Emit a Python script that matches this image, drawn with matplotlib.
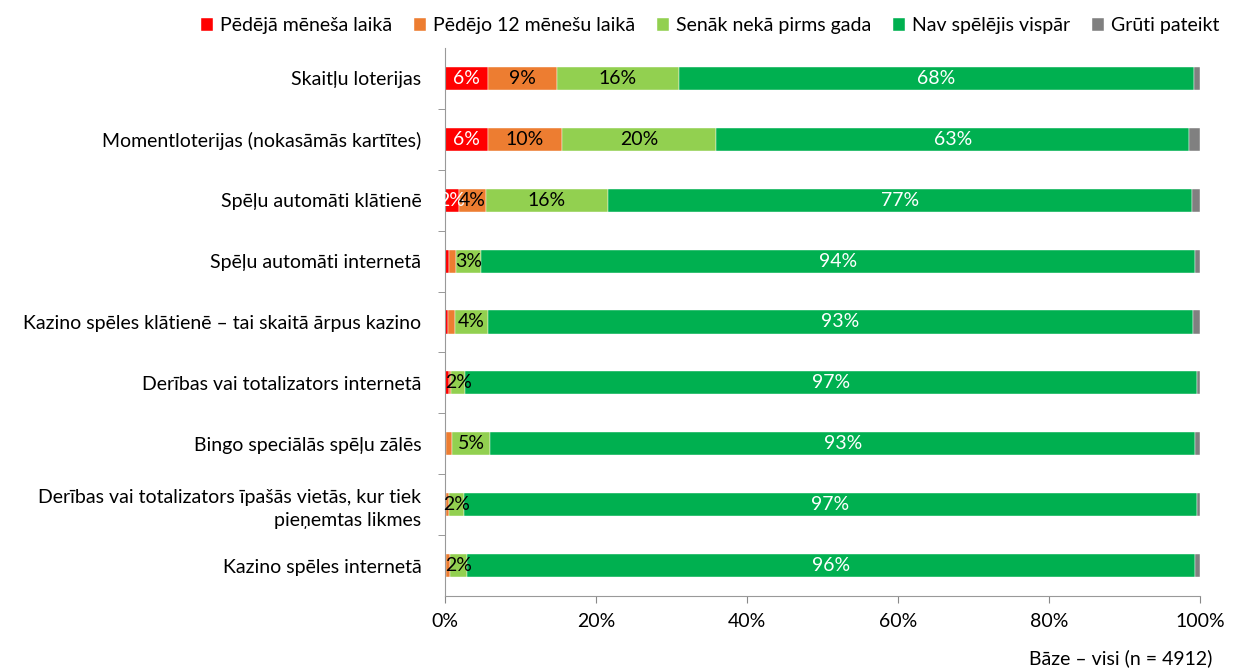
import matplotlib
matplotlib.use('Agg')
import matplotlib.pyplot as plt
from matplotlib.ticker import FixedLocator
import numpy as np

plt.rcParams['font.family'] = ['Lato', 'DejaVu Sans']

categories = [
    'Skaitļu loterijas',
    'Momentloterijas (nokasāmās kartītes)',
    'Spēļu automāti klātienē',
    'Spēļu automāti internetā',
    'Kazino spēles klātienē – tai skaitā ārpus kazino',
    'Derības vai totalizators internetā',
    'Bingo speciālās spēļu zālēs',
    'Derības vai totalizators īpašās vietās, kur tiek\npieņemtas likmes',
    'Kazino spēles internetā',
]
series_names = ['Pēdējā mēneša laikā', 'Pēdējo 12 mēnešu laikā', 'Senāk nekā pirms gada',
                'Nav spēlējis vispār', 'Grūti pateikt']
last_month = [5.7, 5.7, 1.8, 0.5, 0.4, 0.5, 0.2, 0.2, 0.2]
last_year = [9.1, 9.8, 3.6, 0.9, 0.9, 0.3, 0.7, 0.3, 0.5]
earlier = [16.2, 20.4, 16.2, 3.4, 4.4, 1.9, 5.1, 2.0, 2.2]
never = [68.2, 62.7, 77.4, 94.5, 93.4, 96.9, 93.4, 97.1, 96.4]
hard = [0.8, 1.4, 1.0, 0.7, 0.9, 0.4, 0.6, 0.4, 0.7]

colors = ['#FF0000', '#ED7D31', '#92D050', '#00B050', '#808080']
label_colors = ['white', 'black', 'black', 'white', None]

fig = plt.figure(figsize=(12.37, 6.71), dpi=100)
ax = fig.add_axes([0.3597, 0.1118, 0.6104, 0.8167])

y = np.arange(len(categories))
left = np.zeros(len(categories))
for vals, name, col, lc in zip([last_month, last_year, earlier, never, hard],
                               series_names, colors, label_colors):
    vals = np.array(vals)
    bars = ax.barh(y, vals, left=left, height=0.38, color=col, label=name,
                   edgecolor='white', linewidth=0.3)
    if lc is not None:
        for b, v in zip(bars, vals):
            if v >= 1.5:
                ax.text(b.get_x() + b.get_width() / 2, b.get_y() + b.get_height() / 2,
                        f'{v:.0f}%', ha='center', va='center', color=lc, fontsize=14)
    left += vals

ax.set_xlim(0, 100)
ax.set_ylim(8.5, -0.5)
ax.set_xticks(np.arange(0, 101, 20))
ax.set_xticklabels([f'{t}%' for t in range(0, 101, 20)], fontsize=14)
ax.set_yticks(y)
ax.set_yticklabels(categories, fontsize=14, multialignment='right', linespacing=1.4)
ax.tick_params(axis='y', which='major', length=0, pad=17)
ax.yaxis.set_minor_locator(FixedLocator(np.arange(0.5, 8.5, 1)))
ax.tick_params(axis='y', which='minor', length=5, color='#888888', direction='out')
ax.tick_params(axis='x', length=5, color='#888888', direction='out', pad=7)
for s in ['top', 'right']:
    ax.spines[s].set_visible(False)
for s in ['left', 'bottom']:
    ax.spines[s].set_color('#999999')

fig.legend(loc='upper right', bbox_to_anchor=(1.0, 1.0), ncol=5, frameon=False,
           fontsize=14, handlelength=0.65, handleheight=0.65, handletextpad=0.35,
           columnspacing=1.1)

fig.text(0.98, 0.005, 'Bāze – visi (n = 4912)', ha='right', va='bottom', fontsize=14)

fig.savefig('out.png', dpi=100)
